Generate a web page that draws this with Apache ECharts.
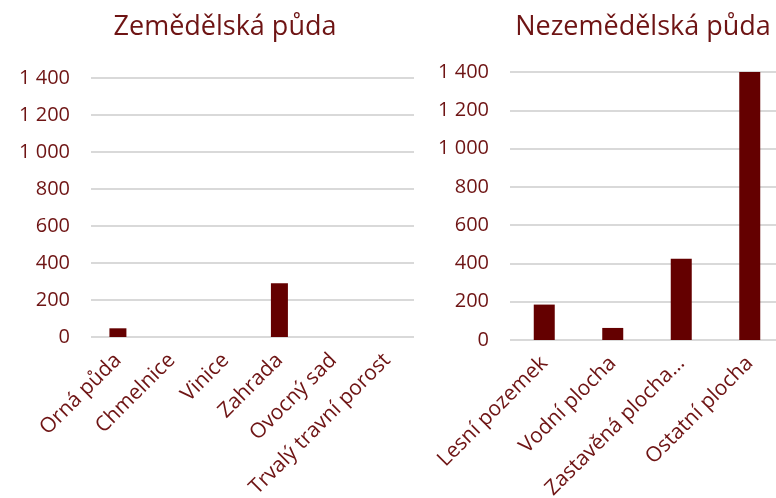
<!DOCTYPE html>
<html>
<head>
<meta charset="utf-8">
<script src="https://cdn.jsdelivr.net/npm/echarts@6/dist/echarts.min.js"></script>
<style>
	html, body { margin: 0; padding: 0; background: #fff; }
	#chart { width: 776px; height: 498px; }
</style>
</head>
<body>
<div id="chart"></div>
<script>
// Zemědělská půda
const agriCategories = ['Orná půda', 'Chmelnice', 'Vinice', 'Zahrada', 'Ovocný sad', 'Trvalý travní porost']
const agriValues = [47, 0, 0, 290, 0, 0]

// Nezemědělská půda
const otherCategories = ['Lesní pozemek', 'Vodní plocha', 'Zastavěná plocha…', 'Ostatní plocha']
const otherValues = [185, 63, 424, 1400]

const yTicks = { min: 0, max: 1400, interval: 200 }

const textColor = '#6e1414'
const barColor = '#640000'
const font = '"Open Sans", "Noto Sans", sans-serif'

const fmt = (v) => String(v).replace(/\B(?=(\d{3})+(?!\d))/g, ' ')

function yAxis(gridIndex) {
	return {
		type: 'value',
		gridIndex: gridIndex,
		min: yTicks.min,
		max: yTicks.max,
		interval: yTicks.interval,
		axisLine: { show: false },
		axisTick: { show: false },
		splitLine: { lineStyle: { color: '#d9d9d9', width: 2 } },
		axisLabel: {
			color: textColor,
			fontFamily: font,
			fontSize: 20,
			margin: 21,
			formatter: fmt,
		},
	}
}

function xAxis(gridIndex, data) {
	return {
		type: 'category',
		gridIndex: gridIndex,
		data: data,
		axisLine: { show: false },
		axisTick: { show: false },
		axisLabel: {
			interval: 0,
			rotate: 45,
			color: textColor,
			fontFamily: font,
			fontSize: 21,
			margin: 20,
		},
	}
}

const option = {
	animation: false,
	title: [
		{
			text: 'Zemědělská půda',
			left: 220,
			top: 9,
			textAlign: 'center',
			textStyle: { color: textColor, fontFamily: font, fontSize: 27, fontWeight: 'normal' },
		},
		{
			text: 'Nezemědělská půda',
			left: 638,
			top: 9,
			textAlign: 'center',
			textStyle: { color: textColor, fontFamily: font, fontSize: 27, fontWeight: 'normal' },
		},
	],
	grid: [
		{ left: 91, width: 323, top: 78, bottom: 161, outerBoundsMode: 'none' },
		{ left: 510, width: 274, top: 72, bottom: 158, outerBoundsMode: 'none' },
	],
	xAxis: [xAxis(0, agriCategories), xAxis(1, otherCategories)],
	yAxis: [yAxis(0), yAxis(1)],
	series: [
		{
			type: 'bar',
			xAxisIndex: 0,
			yAxisIndex: 0,
			data: agriValues,
			barWidth: 17,
			itemStyle: { color: barColor },
		},
		{
			type: 'bar',
			xAxisIndex: 1,
			yAxisIndex: 1,
			data: otherValues,
			barWidth: 21,
			itemStyle: { color: barColor },
		},
	],
}

const chart = echarts.init(document.getElementById('chart'))
chart.setOption(option)
</script>
</body>
</html>
